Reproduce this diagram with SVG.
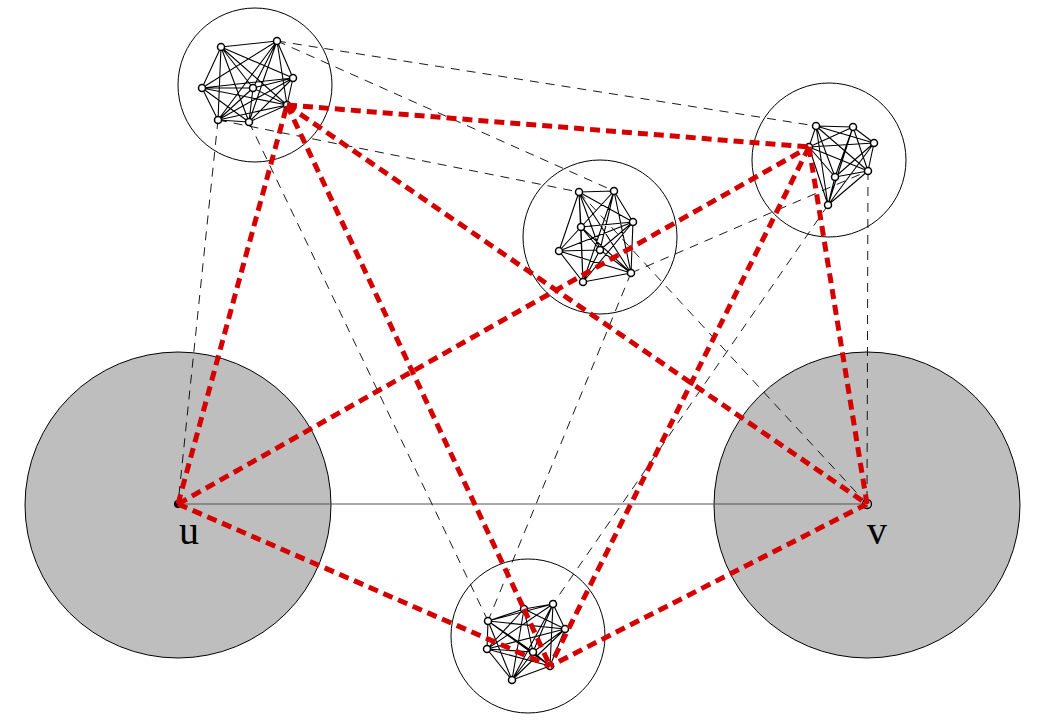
<svg xmlns="http://www.w3.org/2000/svg" width="1051" height="726" viewBox="0 0 1051 726">
<style>
.big{fill:#bebebe;stroke:#000;stroke-width:1}
.ring{fill:none;stroke:#000;stroke-width:1}
.k{fill:none;stroke:#000;stroke-width:1.1}
.pt{fill:#fff;stroke:#000;stroke-width:1.5}
.thin{fill:none;stroke:#000;stroke-width:0.9;stroke-dasharray:9 7}
.red{fill:none;stroke:#d40000;stroke-width:5;stroke-dasharray:10 6}
.lbl{font-family:"Liberation Serif","Times New Roman",serif;font-size:40px;fill:#000;text-anchor:middle}
</style>
<rect width="1051" height="726" fill="#fff"/>
<g id="u-region"><circle class="big" cx="178" cy="505" r="153"/></g>
<g id="v-region"><circle class="big" cx="867" cy="505" r="153"/></g>
<g id="connectors">
<line x1="178" y1="504" x2="867" y2="504" stroke="#555" stroke-width="1.2"/>
<path class="thin" d="M277 41L816 126M277 41L614 191M218 120L579 192M218 120L178 504M249 122L488 621M579 192L867 504M631 273L868 171M631 273L488 621M828 205L553 604M868 171L867 504"/>
</g>
<g id="cluster-tl">
<circle class="ring" cx="255" cy="85" r="77"/>
<path class="k" d="M221 47L277 41M221 47L293 78M221 47L202 88M221 47L253 88M221 47L287 105M221 47L218 120M221 47L249 122M277 41L293 78M277 41L202 88M277 41L253 88M277 41L287 105M277 41L218 120M277 41L249 122M293 78L202 88M293 78L253 88M293 78L287 105M293 78L218 120M293 78L249 122M202 88L253 88M202 88L287 105M202 88L218 120M202 88L249 122M253 88L287 105M253 88L218 120M253 88L249 122M287 105L218 120M287 105L249 122M218 120L249 122"/>
<circle class="pt" cx="221" cy="47" r="3.5"/><circle class="pt" cx="277" cy="41" r="3.5"/><circle class="pt" cx="293" cy="78" r="3.5"/><circle class="pt" cx="202" cy="88" r="3.5"/><circle class="pt" cx="253" cy="88" r="3.5"/><circle class="pt" cx="287" cy="105" r="3.5"/><circle class="pt" cx="218" cy="120" r="3.5"/><circle class="pt" cx="249" cy="122" r="3.5"/>
</g>
<g id="cluster-tr">
<circle class="ring" cx="829" cy="160" r="77"/>
<path class="k" d="M816 126L853 127M816 126L874 143M816 126L809 147M816 126L868 171M816 126L835 177M816 126L828 205M853 127L874 143M853 127L809 147M853 127L868 171M853 127L835 177M853 127L828 205M874 143L809 147M874 143L868 171M874 143L835 177M874 143L828 205M809 147L868 171M809 147L835 177M809 147L828 205M868 171L835 177M868 171L828 205M835 177L828 205"/>
<circle class="pt" cx="816" cy="126" r="3.5"/><circle class="pt" cx="853" cy="127" r="3.5"/><circle class="pt" cx="874" cy="143" r="3.5"/><circle class="pt" cx="809" cy="147" r="3.5"/><circle class="pt" cx="868" cy="171" r="3.5"/><circle class="pt" cx="835" cy="177" r="3.5"/><circle class="pt" cx="828" cy="205" r="3.5"/>
</g>
<g id="cluster-mid">
<circle class="ring" cx="600" cy="237" r="77"/>
<path class="k" d="M579 192L614 191M579 192L633 222M579 192L581 227M579 192L559 251M579 192L600 250M579 192L631 273M579 192L583 282M614 191L633 222M614 191L581 227M614 191L559 251M614 191L600 250M614 191L631 273M614 191L583 282M633 222L581 227M633 222L559 251M633 222L600 250M633 222L631 273M633 222L583 282M581 227L559 251M581 227L600 250M581 227L631 273M581 227L583 282M559 251L600 250M559 251L631 273M559 251L583 282M600 250L631 273M600 250L583 282M631 273L583 282"/>
<circle class="pt" cx="579" cy="192" r="3.5"/><circle class="pt" cx="614" cy="191" r="3.5"/><circle class="pt" cx="633" cy="222" r="3.5"/><circle class="pt" cx="581" cy="227" r="3.5"/><circle class="pt" cx="559" cy="251" r="3.5"/><circle class="pt" cx="600" cy="250" r="3.5"/><circle class="pt" cx="631" cy="273" r="3.5"/><circle class="pt" cx="583" cy="282" r="3.5"/>
</g>
<g id="cluster-bottom">
<circle class="ring" cx="528" cy="636" r="77"/>
<path class="k" d="M553 604L524 609M553 604L488 621M553 604L565 629M553 604L487 649M553 604L533 652M553 604L550 666M553 604L512 680M524 609L488 621M524 609L565 629M524 609L487 649M524 609L533 652M524 609L512 680M488 621L565 629M488 621L487 649M488 621L533 652M488 621L550 666M488 621L512 680M565 629L487 649M565 629L533 652M565 629L550 666M565 629L512 680M487 649L533 652M487 649L550 666M487 649L512 680M533 652L550 666M533 652L512 680M550 666L512 680"/>
<circle class="pt" cx="553" cy="604" r="3.5"/><circle class="pt" cx="524" cy="609" r="3.5" stroke="#d40000"/><circle class="pt" cx="488" cy="621" r="3.5"/><circle class="pt" cx="565" cy="629" r="3.5"/><circle class="pt" cx="487" cy="649" r="3.5"/><circle class="pt" cx="533" cy="652" r="3.5"/><circle class="pt" cx="550" cy="666" r="3.5"/><circle class="pt" cx="512" cy="680" r="3.5"/>
</g>
<g id="u">
<circle cx="178" cy="504" r="4" fill="#000"/>
<text class="lbl" x="189" y="544">u</text>
</g>
<g id="v">
<circle cx="867" cy="504" r="4.5" fill="#bebebe" stroke="#000" stroke-width="1.3"/>
<text class="lbl" x="877" y="544">v</text>
</g>
<g id="red-path">
<path class="red" d="M178 504L287 105M178 504L809 147M178 504L550 666M287 105L809 147M287 105L867 504M287 105L524 609M524 609L550 666M809 147L550 666M809 147L867 504M867 504L550 666"/>
</g>
</svg>
